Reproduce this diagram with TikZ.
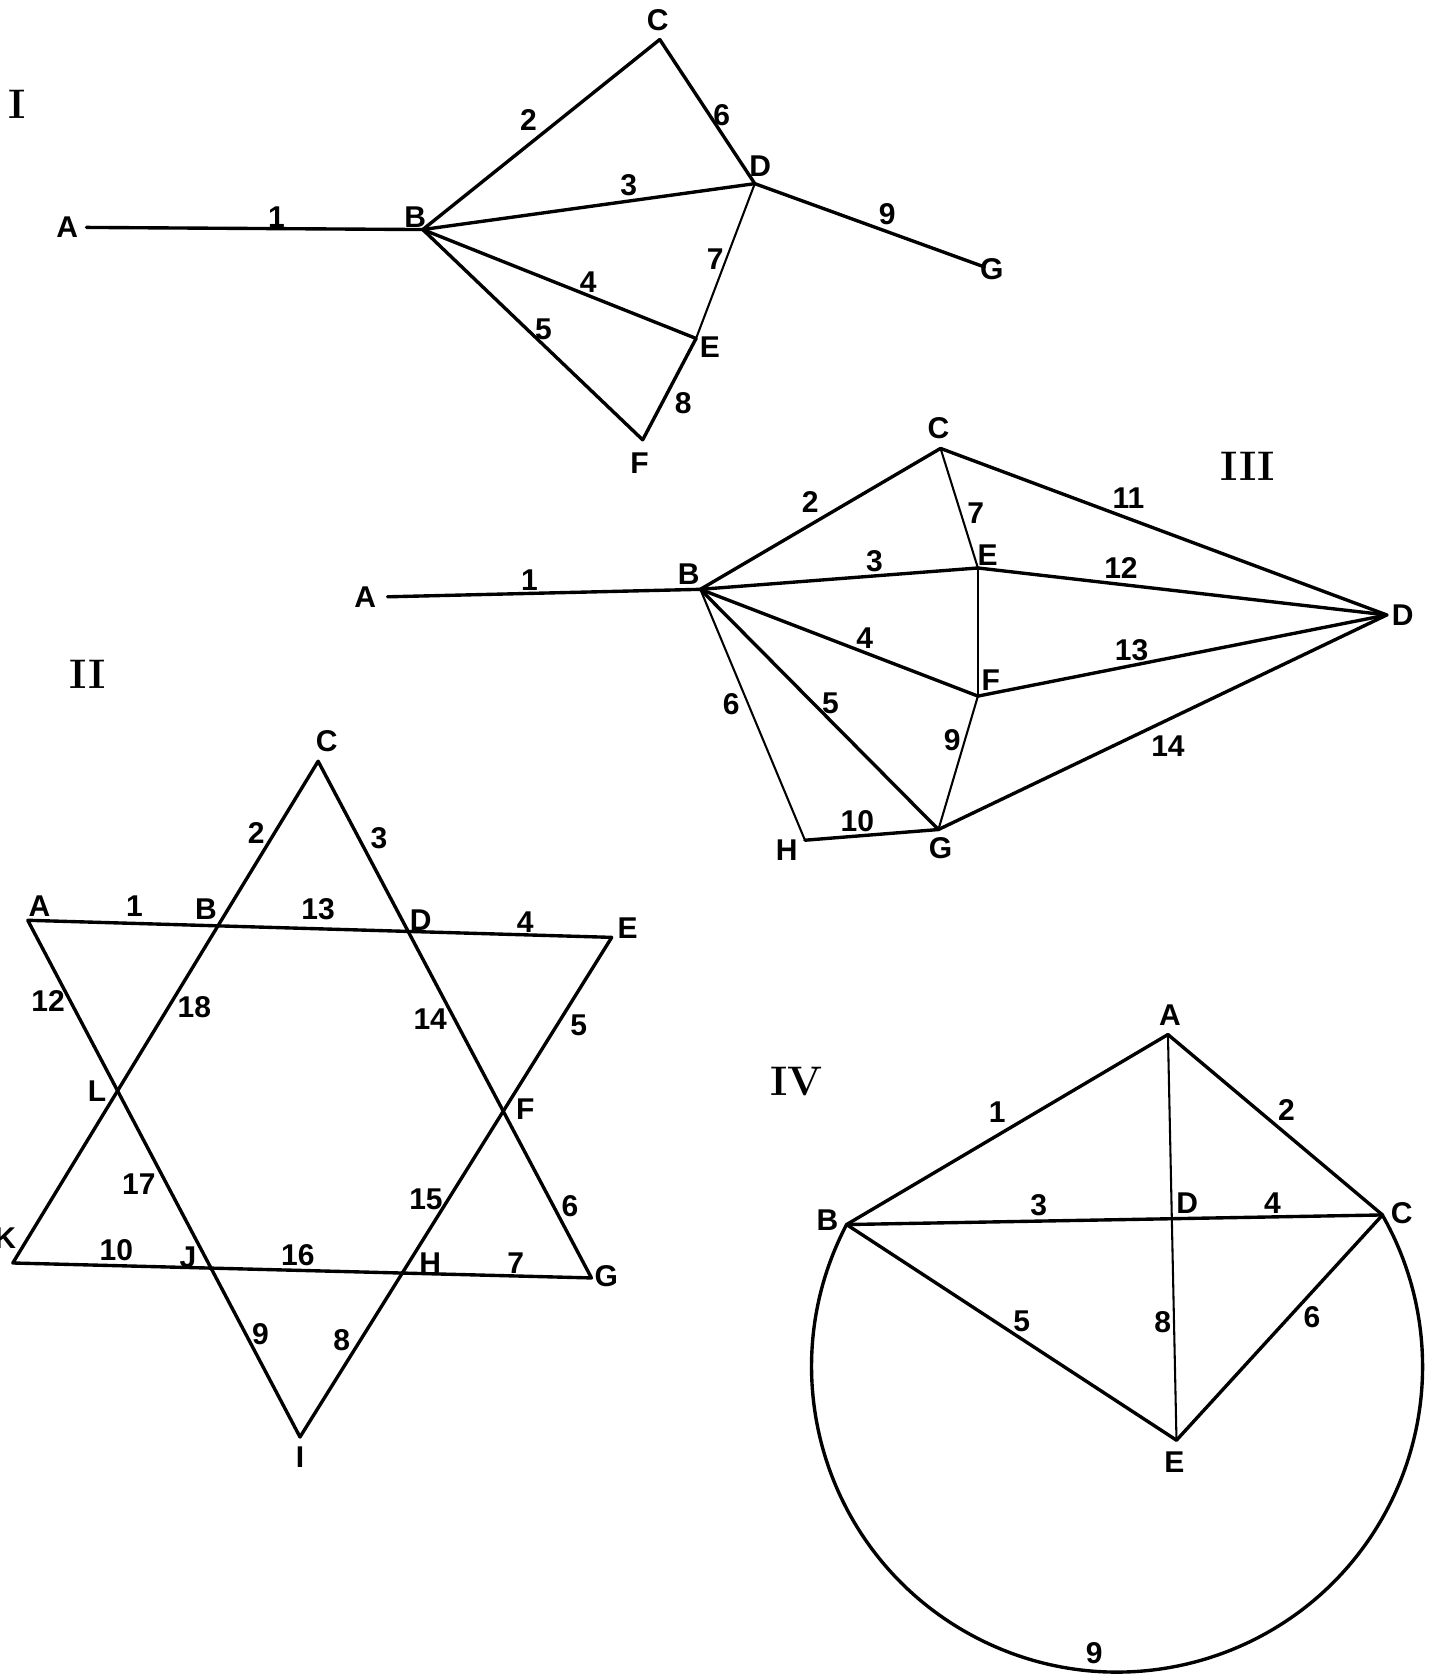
\documentclass[tikz,border=0pt]{standalone}
\usepackage{fontspec}
\newfontfamily\lettfont{Liberation Sans}
\usepackage{tikz}
\usetikzlibrary{positioning}

\begin{document}
\begin{tikzpicture}[x=0.01cm, y=-0.01cm,
    edge/.style={line width=0.9pt, line cap=round, line join=round},
    thinedge/.style={line width=0.55pt, line cap=round},
    lett/.style={font=\lettfont\bfseries\fontsize{8}{9}\selectfont, inner sep=0pt},
    num/.style={font=\lettfont\bfseries\fontsize{8}{9}\selectfont, inner sep=0pt},
    roman/.style={font=\bfseries\fontsize{11}{13}\selectfont, inner sep=0pt}]
  \useasboundingbox (0,0) rectangle (1342,1568);

  % figura I
  \node[roman] (I-num) at (16,98) {I};
  \foreach \v/\x/\y in {A/81/213, B/396/215, C/618/37, D/707/172, E/652/317, F/602/412, G/922/250}{
    \coordinate (I-\v) at (\x,\y);
  }
  \foreach \a/\b in {A/B, B/C, B/D, B/E, B/F, C/D, E/F, D/G}{ \draw[edge] (I-\a) -- (I-\b); }
  \draw[thinedge] (I-D) -- (I-E);
  \foreach \v/\x/\y in {A/63/213, B/389/203, C/616/19, D/712/156, E/665/325, F/599/434, G/929/252}{
    \node[lett] (I-l\v) at (\x,\y) {\v};
  }
  \foreach \n/\x/\y in {1/259/203, 2/495/112, 3/589/173, 4/551/264, 5/509/308, 6/676/108, 7/670/243, 8/640/378, 9/831/201}{
    \node[num] (I-n\n) at (\x,\y) {\n};
  }

  % figura III
  \node[roman] (III-num) at (1169,437) {III};
  \foreach \v/\x/\y in {A/363/559, B/656/552, C/881/420, D/1299/576, E/916/532, F/916/652, G/879/777, H/754/787}{
    \coordinate (III-\v) at (\x,\y);
  }
  \foreach \a/\b in {A/B, B/C, B/E, B/F, B/G, H/G, C/D, E/D, F/D, G/D}{ \draw[edge] (III-\a) -- (III-\b); }
  \foreach \a/\b in {C/E, E/F, F/G, B/H}{ \draw[thinedge] (III-\a) -- (III-\b); }
  \foreach \v/\x/\y in {A/342/559, B/645/538, C/879/401, D/1314/576, E/925/520, F/928/637, G/881/794, H/737/796}{
    \node[lett] (III-l\v) at (\x,\y) {\v};
  }
  \foreach \n/\x/\y in {1/496/543, 2/759/470, 3/819/526, 4/810/598, 5/778/659, 6/685/660, 7/914/481,
                        9/892/693, 10/803/769, 11/1057/467, 12/1050/532, 13/1060/609, 14/1094/699}{
    \node[num] (III-n\n) at (\x,\y) {\n};
  }

  % figura II (stella)
  \node[roman] (II-num) at (82,632) {II};
  \foreach \v/\x/\y in {A/26/862, C/298/713, E/573/878, K/12/1183, G/554/1197, I/281/1346}{
    \coordinate (II-\v) at (\x,\y);
  }
  \draw[edge] (II-A) -- (II-E) -- (II-I) -- cycle;
  \draw[edge] (II-C) -- (II-G) -- (II-K) -- cycle;
  \foreach \v/\x/\y in {A/37/849, B/193/852, C/306/694, D/394/862, E/588/869, F/492/1039, G/568/1195,
                        H/403/1183, I/281/1365, J/176/1178, K/5/1160, L/91/1022}{
    \node[lett] (II-l\v) at (\x,\y) {\v};
  }
  \foreach \n/\x/\y in {1/126/849, 2/240/780, 3/355/785, 4/492/864, 5/542/960, 6/534/1130, 7/483/1183, 8/320/1255,
                        9/244/1250, 10/109/1171, 12/45/938, 13/298/852, 14/403/955, 15/399/1123, 16/279/1176,
                        17/130/1109, 18/182/943}{
    \node[num] (II-n\n) at (\x,\y) {\n};
  }

  % figura IV
  \node[roman] (IV-num) at (746,1013) {IV};
  \foreach \v/\x/\y in {A/1094/969, B/793/1147, C/1295/1138, E/1102/1349}{
    \coordinate (IV-\v) at (\x,\y);
  }
  \coordinate (IV-D) at (intersection of IV-A--IV-E and IV-B--IV-C);
  \foreach \a/\b in {A/B, A/C, B/C, B/E, C/E}{ \draw[edge] (IV-\a) -- (IV-\b); }
  \draw[thinedge] (IV-A) -- (IV-E);
  % arco 9 sotto
  \draw[edge] (IV-B) arc[start angle=152.3, end angle=389.7, radius=2.86cm];
  \foreach \v/\x/\y in {A/1096/951, B/775/1143, C/1313/1136, D/1112/1127, E/1100/1370}{
    \node[lett] (IV-l\v) at (\x,\y) {\v};
  }
  \foreach \n/\x/\y in {1/934/1042, 2/1205/1040, 3/973/1129, 4/1192/1127, 5/957/1238, 6/1229/1234, 8/1089/1238, 9/1025/1548}{
    \node[num] (IV-n\n) at (\x,\y) {\n};
  }
\end{tikzpicture}
\end{document}
